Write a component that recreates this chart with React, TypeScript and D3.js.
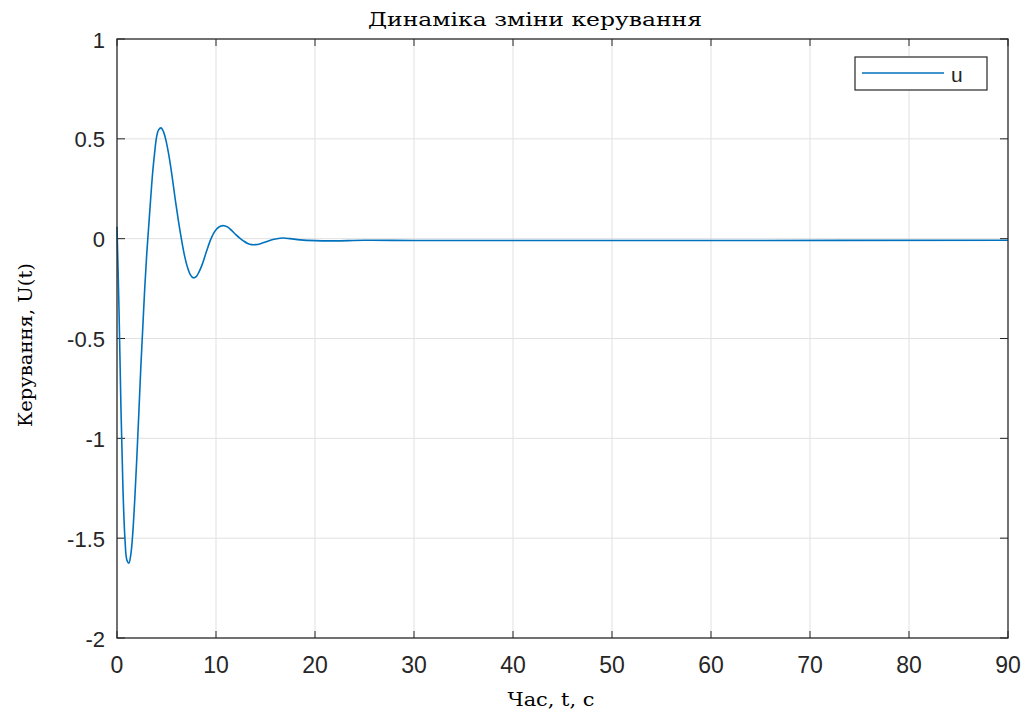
import React, { useEffect, useRef } from 'react';
import * as d3 from 'd3';

// time, s
const timeValues = [
  0, 0.2, 0.4, 0.6, 0.8, 1.0, 1.2, 1.4, 1.6, 1.8, 2.0, 2.2, 2.4, 2.6, 2.8, 3.0,
  3.2, 3.4, 3.6, 3.8, 4.0, 4.2, 4.45, 4.7, 5.0, 5.3, 5.6, 5.9, 6.2, 6.5, 6.8,
  7.1, 7.4, 7.7, 8.0, 8.3, 8.6, 8.9, 9.2, 9.5, 9.8, 10.1, 10.5, 10.8, 11.2,
  11.6, 12.0, 12.4, 12.8, 13.2, 13.6, 14.0, 14.5, 15.0, 15.5, 16.0, 16.8, 17.5,
  18.5, 20, 22, 25, 30, 40, 60, 90,
];
// control u(t)
const uValues = [
  0.06, -0.35, -0.85, -1.25, -1.5, -1.61, -1.625, -1.58, -1.47, -1.3, -1.1,
  -0.88, -0.65, -0.45, -0.25, -0.08, 0.06, 0.2, 0.33, 0.43, 0.51, 0.545, 0.555,
  0.535, 0.48, 0.4, 0.3, 0.19, 0.09, 0.0, -0.08, -0.14, -0.18, -0.196, -0.19,
  -0.165, -0.13, -0.085, -0.04, 0.0, 0.03, 0.05, 0.063, 0.065, 0.058, 0.04,
  0.02, 0.003, -0.012, -0.024, -0.03, -0.03, -0.025, -0.017, -0.008, -0.002,
  0.003, 0.0, -0.006, -0.01, -0.011, -0.008, -0.009, -0.009, -0.009, -0.008,
];
const xTicks = [0, 10, 20, 30, 40, 50, 60, 70, 80, 90];
const yTicks = [-2, -1.5, -1, -0.5, 0, 0.5, 1];

export default function App() {
  const ref = useRef<SVGSVGElement>(null);

  useEffect(() => {
    const svg = d3.select(ref.current);
    svg.selectAll('*').remove();

    const left = 117, right = 1008, top = 39, bottom = 638;
    const x = d3.scaleLinear().domain([0, 90]).range([left, right]);
    const y = d3.scaleLinear().domain([-2, 1]).range([bottom, top]);

    svg.append('rect').attr('width', 1029).attr('height', 717).attr('fill', '#fff');

    // grid
    svg.append('g').selectAll('line').data(xTicks.slice(1, -1)).enter().append('line')
      .attr('x1', d => x(d)).attr('x2', d => x(d)).attr('y1', top).attr('y2', bottom)
      .attr('stroke', '#e1e1e1').attr('stroke-width', 1);
    svg.append('g').selectAll('line').data(yTicks.slice(1, -1)).enter().append('line')
      .attr('y1', d => y(d)).attr('y2', d => y(d)).attr('x1', left).attr('x2', right)
      .attr('stroke', '#e1e1e1').attr('stroke-width', 1);

    // ticks (inside)
    const tk = svg.append('g').attr('stroke', '#262626').attr('stroke-width', 1);
    xTicks.forEach(t => {
      tk.append('line').attr('x1', x(t)).attr('x2', x(t)).attr('y1', bottom).attr('y2', bottom - 7);
      tk.append('line').attr('x1', x(t)).attr('x2', x(t)).attr('y1', top).attr('y2', top + 7);
    });
    yTicks.forEach(t => {
      tk.append('line').attr('y1', y(t)).attr('y2', y(t)).attr('x1', left).attr('x2', left + 8);
      tk.append('line').attr('y1', y(t)).attr('y2', y(t)).attr('x1', right).attr('x2', right - 8);
    });

    // line
    const pts = timeValues.map((t, i) => [t, uValues[i]] as [number, number]);
    const line = d3.line<[number, number]>()
      .x(d => x(d[0])).y(d => y(d[1]))
      .curve(d3.curveCatmullRom.alpha(0.5));
    svg.append('path').datum(pts).attr('d', line)
      .attr('fill', 'none').attr('stroke', '#0072BD').attr('stroke-width', 1.6);

    // box
    svg.append('rect').attr('x', left).attr('y', top)
      .attr('width', right - left).attr('height', bottom - top)
      .attr('fill', 'none').attr('stroke', '#262626').attr('stroke-width', 1.3);

    // tick labels
    const sans = 'Liberation Sans, Arial, sans-serif';
    svg.append('g').selectAll('text').data(xTicks).enter().append('text')
      .attr('x', d => x(d)).attr('y', 673).attr('text-anchor', 'middle')
      .attr('font-family', sans).attr('font-size', 23).attr('fill', '#262626')
      .text(d => String(d));
    svg.append('g').selectAll('text').data(yTicks).enter().append('text')
      .attr('x', 105).attr('y', d => y(d) + 8.5).attr('text-anchor', 'end')
      .attr('font-family', sans).attr('font-size', 22).attr('fill', '#262626')
      .text(d => String(d));

    // titles
    const serif = 'DejaVu Serif, Liberation Serif, serif';
    svg.append('text').attr('x', 535).attr('y', 26).attr('text-anchor', 'middle')
      .attr('font-family', serif).attr('font-size', 19).attr('fill', '#000')
      .attr('textLength', 334).attr('lengthAdjust', 'spacingAndGlyphs')
      .text('Динаміка зміни керування');
    svg.append('text').attr('x', 551).attr('y', 706).attr('text-anchor', 'middle')
      .attr('font-family', serif).attr('font-size', 19).attr('fill', '#000')
      .attr('textLength', 87).attr('lengthAdjust', 'spacingAndGlyphs')
      .text('Час, t, c');
    svg.append('text').attr('transform', 'translate(32,345) rotate(-90)')
      .attr('text-anchor', 'middle')
      .attr('font-family', serif).attr('font-size', 19).attr('fill', '#000')
      .attr('textLength', 164).attr('lengthAdjust', 'spacingAndGlyphs')
      .text('Керування, U(t)');

    // legend
    const lg = svg.append('g');
    lg.append('rect').attr('x', 855).attr('y', 57).attr('width', 132).attr('height', 33)
      .attr('fill', '#fff').attr('stroke', '#262626').attr('stroke-width', 1.2);
    lg.append('line').attr('x1', 862).attr('x2', 944).attr('y1', 73).attr('y2', 73)
      .attr('stroke', '#0072BD').attr('stroke-width', 1.6);
    lg.append('text').attr('x', 951).attr('y', 82)
      .attr('font-family', sans).attr('font-size', 21).attr('fill', '#262626').text('u');
  }, []);

  return (
    <svg ref={ref} width={1029} height={717}
      style={{ position: 'absolute', left: 0, top: 0, display: 'block' }} />
  );
}
